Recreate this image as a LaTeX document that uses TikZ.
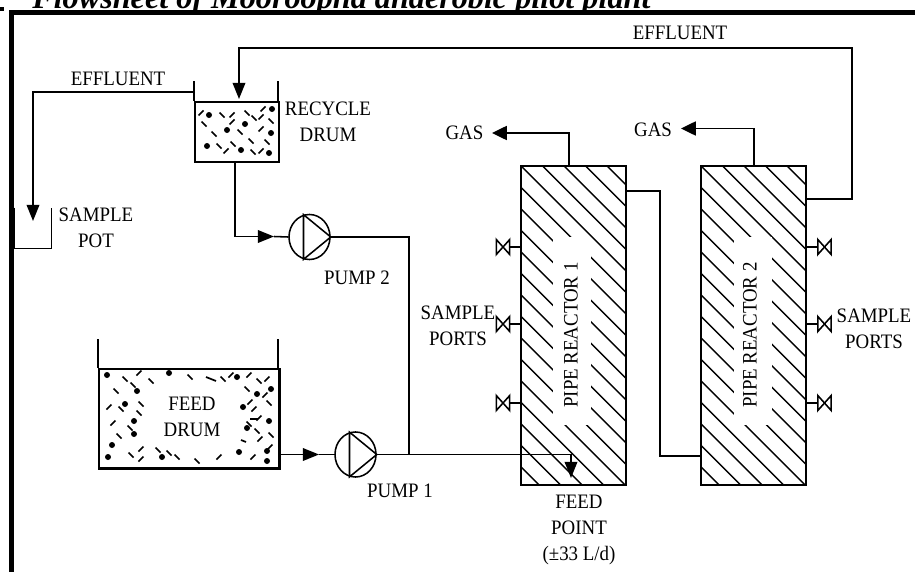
\documentclass[tikz,border=0pt]{standalone}
\usepackage{xcolor}
\usepackage{fontspec}
\setmainfont{Liberation Serif}
\newfontfamily\tagfont[FakeStretch=0.92]{Liberation Serif}
\usepackage{tikz}
\usetikzlibrary{arrows.meta,shapes.geometric}
\tikzset{
  flow/.style={draw, line width=1.1pt},
  flowtip/.style={flow, -{Triangle[length=11.5pt, width=9pt]}},
  gastip/.style={flow, -{Triangle[length=10.5pt, width=10pt]}},
  drum/.style={draw, rectangle, line width=1.2pt, inner sep=0pt},
  reactor/.style={draw, rectangle, line width=1.1pt, inner sep=0pt, minimum width=2.625cm, minimum height=7.975cm},
  pump/.style={draw, ellipse, line width=1.1pt, inner sep=0pt, minimum width=1.025cm, minimum height=1.125cm},
  valve/.style={rectangle, inner sep=0pt, minimum width=0.32cm, minimum height=0.36cm},
  gapbox/.style={rectangle, fill=white, inner sep=0pt, minimum width=0.95cm, minimum height=4.7cm},
  hatchline/.style={line width=1pt},
  speck/.style={line width=1.2pt},
  tag/.style={align=center, inner sep=0pt, font=\tagfont\fontsize{14.6pt}{18.4pt}\selectfont},
}

\begin{document}
\begin{tikzpicture}[x=0.025cm, y=-0.025cm]%
\useasboundingbox (0,0) rectangle (915,572);%
\node[anchor=base west, inner sep=0pt, font=\fontsize{22.9pt}{27pt}\selectfont\bfseries\itshape] (title) at (32,9) {Flowsheet of Mooroopna anaerobic pilot plant};%
\draw[line width=3.6pt] (11.5,572) -- (11.5,12.5) -- (915,12.5);%
\fill (0,7) rectangle (4,11);%
% vessels
\node[drum, minimum width=2.1cm, minimum height=1.5cm] (recycle) at (237,132) {};%
\node[drum, minimum width=4.5cm, minimum height=2.475cm] (feed) at (189,418.5) {};%
\node[inner sep=0pt, minimum width=0.9cm, minimum height=1cm] (pot) at (33,228) {};%
\node[reactor] (reactorA) at (573.5,325.5) {};%
\node[reactor] (reactorB) at (753.5,325.5) {};%
\node[pump] (pumpB) at (309.5,237) {};%
\node[pump] (pumpA) at (355.5,454.5) {};%
\draw[flow] (recycle.north west) -- ++(0,-20);%
\draw[flow] (recycle.north east) ++(-2,0) -- ++(0,-20);%
\draw[flow] (feed.north west) -- ++(0,-29);%
\draw[flow] (feed.north east) ++(-2,0) -- ++(0,-29);%
\draw[line width=2.2pt] (feed.north east) -- (feed.south east) -- (feed.south west);%
\draw[flow] (pot.north west) -- (pot.south west) -- (pot.south east) -- (pot.north east);%
\draw[flow] (pumpB.105) -- (pumpB.255) -- (pumpB.east) -- cycle;%
\draw[flow] (pumpA.105) -- (pumpA.255) -- (pumpA.east) -- cycle;%
% reactor packing
\foreach \r in {reactorA,reactorB} {%
  \begin{scope}%
  \clip (\r.north west) rectangle (\r.south east);%
  \foreach \off in {-107.5,-86,...,322} {%
    \draw[hatchline] (\r.north west) ++(0,\off) -- ++(320,320);%
  }%
  \end{scope}%
}%
\node[gapbox] (gapA) at (571.5,331) {};%
\node[gapbox] (gapB) at (752.5,331) {};%
% drum contents
\foreach \x/\y in {209/115,227/130,245/124,271/133,207/146,241/150,269/153,272/109,107/375,169/373,237/377,137/391,271/389,257/394,125/404,243/407,134/421,269/421,247/428,134/434,112/445,108/457,162/457,239/452,267/451,267/461} {%
  \fill (\x,\y) circle (3);%
}%
\foreach \x/\y in {201/113,232/115,263/109,261/117,261/129,226/151,261/151,232/122,139/373,231/375,249/375,267/379,265/395,250/402,109/407,254/409,113/423,259/418,260/439,141/449,141/459,219/457,253/457,270/447} {%
  \draw[speck] (\x,\y) ++(-2.5,2.5) -- ++(5,-5);%
}%
\foreach \x/\y in {222/115,204/124,214/134,240/132,247/113,254/118,271/121,251/141,267/142,219/146,233/144,253/152,125/379,133/385,116/391,151/381,190/377,223/379,259/381,247/389,269/403,121/409,141/404,139/413,249/424,130/428,119/436,257/431,271/435,131/455,158/450,169/453,177/457,197/461} {%
  \draw[speck] (\x,\y) ++(-2.5,-2.5) -- ++(5,5);%
}%
\draw[speck] (206,377) -- (216,381);%
\draw[speck] (241,440) -- (246,442);%
\draw[speck] (250,419) -- (258,419);%
% connectors
\coordinate (recycleOut) at (195,92);%
\coordinate (potIn) at (33,221);%
\coordinate (recycleIn) at (239,99);%
\coordinate (turnTop) at (852,48);%
\coordinate (outB) at (806,199);%
\coordinate (arrowB) at (274,236.5);%
\coordinate (arrowA) at (319,454.5);%
\coordinate (tee) at (409,454.5);%
\coordinate (feedPoint) at (571,478);%
\coordinate (gasA) at (492,133);%
\coordinate (gasB) at (681,128.5);%
\coordinate (topA) at (569,166);%
\coordinate (topB) at (754,166);%
\coordinate (linkA) at (626,191);%
\coordinate (linkB) at (701,456);%
\draw[flowtip] (recycleOut) -| (potIn);%
\draw[flowtip] (outB) -| (turnTop) -| (recycleIn);%
\draw[flowtip] ([xshift=-0.05cm]recycle.south) |- (arrowB);%
\draw[flow] (arrowB) -- (pumpB.west);%
\draw[flow] (pumpB.east) -| (tee);%
\draw[flowtip] (feed.east |- arrowA) -- (arrowA);%
\draw[flow] (arrowA) -- (pumpA.west);%
\draw[flowtip] (pumpA.east) -| (feedPoint);%
\draw[gastip] (topA) |- (gasA);%
\draw[gastip] (topB) |- (gasB);%
\draw[flow] (linkA) -| (660,456) -- (linkB);%
% sample valves
\foreach \i/\y in {1/247,2/324,3/403} {%
  \node[valve] (valveA\i) at (503,\y) {};%
  \node[valve] (valveB\i) at (824.5,\y) {};%
  \draw[flow] (valveA\i.north west) -- (valveA\i.south east) -- (valveA\i.north east) -- (valveA\i.south west) -- cycle;%
  \draw[flow] (valveB\i.north west) -- (valveB\i.south east) -- (valveB\i.north east) -- (valveB\i.south west) -- cycle;%
  \draw[flow] (reactorA.west |- valveA\i) -- (valveA\i.east);%
  \draw[flow] (reactorB.east |- valveB\i) -- (valveB\i.west);%
}%
% labels
\node[tag] (effluentA) at (118,79) {EFFLUENT};%
\node[tag] (effluentB) at (680,33) {EFFLUENT};%
\node[tag] (recycleTag) at (328,122) {RECYCLE\\DRUM};%
\node[tag] (potTag) at (96,228) {SAMPLE\\POT};%
\node[tag] (gasTagA) at (464.5,133) {GAS};%
\node[tag] (gasTagB) at (653,130) {GAS};%
\node[tag] (pumpTagB) at (357,278) {PUMP 2};%
\node[tag] (pumpTagA) at (400,491) {PUMP 1};%
\node[tag] (portsA) at (458,326) {SAMPLE\\PORTS};%
\node[tag] (portsB) at (874,329) {SAMPLE\\PORTS};%
\node[tag] (feedTag) at (192,417) {FEED\\DRUM};%
\node[tag, rotate=90] (reactorTagA) at (571,335) {PIPE REACTOR 1};%
\node[tag, rotate=90] (reactorTagB) at (750,335) {PIPE REACTOR 2};%
\node[tag] (pointTag) at (579,530) {FEED\\POINT\\(±33 L/d)};%
\end{tikzpicture}
\end{document}
